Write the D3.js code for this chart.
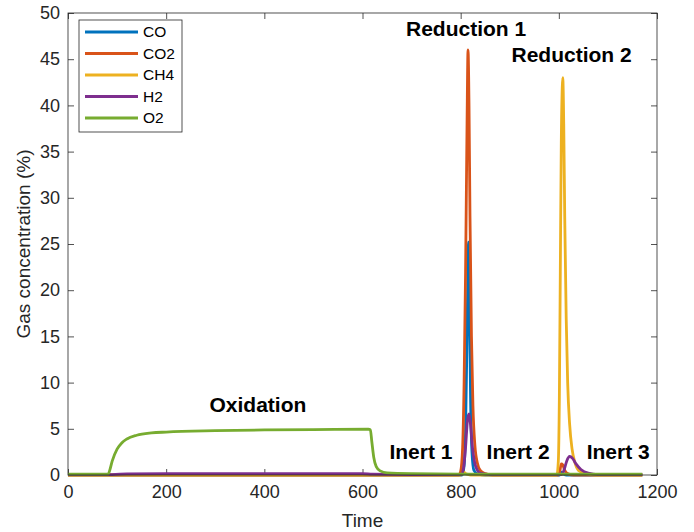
<!DOCTYPE html>
<html>
<head>
<meta charset="utf-8">
<script src="https://cdn.jsdelivr.net/npm/d3@7"></script>
<style>
  body { margin: 0; background: #fff; }
  text { font-family: "Liberation Sans", Arial, sans-serif; }
</style>
</head>
<body>
<div id="chart"></div>
<script>
// Series as [time, %] points
const coData = [[0,0],[803,0],[807,1],[810,5],[813,15],[815,23],[816,25.2],[818,19],[820,9],[823,2.5],[827,0.5],[835,0.1],[850,0],[1002,0],[1005,0.3],[1008,0.15],[1015,0],[1170,0]];
const co2Data = [[0,0],[796,0],[800,0.4],[804,3],[807,10],[810,22],[813,38],[815,46],[817,40],[819,28],[822,15],[825,7.5],[829,3.2],[834,1.3],[840,0.5],[850,0.15],[865,0],[999,0],[1002,0.4],[1005,1.2],[1008,1.1],[1012,0.5],[1020,0.1],[1030,0],[1170,0]];
const ch4Data = [[0,0],[800,0],[806,0.3],[812,0.1],[820,0],[996,0],[999,1.5],[1001,8],[1003,22],[1005,36],[1007,42],[1008,43],[1010,38],[1012,28],[1015,17],[1018,10],[1022,5.5],[1027,2.8],[1033,1.3],[1040,0.5],[1055,0.15],[1075,0],[1170,0]];
const h2Data = [[0,0.05],[90,0.05],[120,0.12],[200,0.15],[600,0.15],[620,0.1],[700,0.05],[802,0.05],[806,0.8],[810,3],[814,6],[817,6.6],[820,5.5],[824,3],[828,1.5],[833,0.6],[840,0.2],[860,0.05],[1006,0.05],[1011,0.6],[1016,1.5],[1022,2.0],[1028,1.8],[1035,1.2],[1045,0.6],[1060,0.2],[1080,0.05],[1170,0.05]];
const o2Data = [[0,0.1],[82,0.1],[85,0.5],[90,1.5],[100,2.8],[110,3.5],[120,3.9],[140,4.3],[170,4.55],[200,4.65],[300,4.8],[400,4.88],[500,4.92],[612,4.95],[616,4.9],[619,3.6],[623,1.9],[628,0.9],[636,0.45],[650,0.22],[700,0.14],[800,0.1],[1170,0.1]];

const seriesNames = ['CO', 'CO2', 'CH4', 'H2', 'O2'];
const seriesData = [coData, co2Data, ch4Data, h2Data, o2Data];
const seriesColors = ['#0072BD', '#D95319', '#EDB120', '#7E2F8E', '#77AC30'];

const xTicks = [0, 200, 400, 600, 800, 1000, 1200];
const yTicks = [0, 5, 10, 15, 20, 25, 30, 35, 40, 45, 50];

// phase annotations: [label, time, %]
const phaseLabels = [
  ['Reduction 1', 811, 47.5],
  ['Reduction 2', 1026, 44.7],
  ['Oxidation', 387, 6.8],
  ['Inert 1', 719, 1.7],
  ['Inert 2', 917, 1.7],
  ['Inert 3', 1121, 1.7]
];

const width = 694, height = 532;
const margin = {top: 13, right: 37, bottom: 57, left: 68};
const iw = width - margin.left - margin.right;
const ih = height - margin.top - margin.bottom;

const svg = d3.select('#chart').append('svg')
  .attr('width', width)
  .attr('height', height);

const g = svg.append('g')
  .attr('transform', `translate(${margin.left},${margin.top})`);

const x = d3.scaleLinear().domain([0, 1200]).range([0, iw]);
const y = d3.scaleLinear().domain([0, 50]).range([ih, 0]);

// Axes (MATLAB style: inward ticks, full box)
const axisColor = '#262626';
const styleAxis = sel => {
  sel.select('.domain').remove();
  sel.selectAll('line').attr('stroke', axisColor).attr('stroke-width', 0.8);
  sel.selectAll('text').attr('fill', axisColor).attr('font-size', '18px');
};

g.append('g')
  .attr('transform', `translate(0,${ih})`)
  .call(d3.axisBottom(x).tickValues(xTicks).tickFormat(d3.format('d'))
    .tickSizeInner(-6).tickSizeOuter(0).tickPadding(10))
  .call(styleAxis);
g.append('g')
  .call(d3.axisTop(x).tickValues(xTicks).tickSizeInner(-6).tickSizeOuter(0).tickFormat(''))
  .call(styleAxis);
g.append('g')
  .call(d3.axisLeft(y).tickValues(yTicks).tickSizeInner(-6).tickSizeOuter(0).tickPadding(8))
  .call(styleAxis);
g.append('g')
  .attr('transform', `translate(${iw},0)`)
  .call(d3.axisRight(y).tickValues(yTicks).tickSizeInner(-6).tickSizeOuter(0).tickFormat(''))
  .call(styleAxis);

// Lines
const line = d3.line()
  .x(d => x(d[0]))
  .y(d => y(d[1]))
  .curve(d3.curveMonotoneX);

const plot = g.append('g');
seriesData.forEach((data, i) => {
  plot.append('path')
    .datum(data)
    .attr('fill', 'none')
    .attr('stroke', seriesColors[i])
    .attr('stroke-width', 2.8)
    .attr('stroke-linejoin', 'round')
    .attr('d', line);
});

// Box
g.append('rect')
  .attr('width', iw)
  .attr('height', ih)
  .attr('fill', 'none')
  .attr('stroke', axisColor)
  .attr('stroke-width', 0.8);

// Phase labels
phaseLabels.forEach(([label, t, v]) => {
  g.append('text')
    .attr('x', x(t))
    .attr('y', y(v))
    .attr('text-anchor', 'middle')
    .attr('font-size', '21px')
    .attr('font-weight', 'bold')
    .attr('fill', '#000')
    .text(label);
});

// Axis titles
svg.append('text')
  .attr('x', margin.left + iw / 2)
  .attr('y', 527)
  .attr('text-anchor', 'middle')
  .attr('font-size', '19px')
  .attr('fill', axisColor)
  .text('Time');

svg.append('text')
  .attr('transform', `translate(30,${margin.top + ih / 2}) rotate(-90)`)
  .attr('text-anchor', 'middle')
  .attr('font-size', '19px')
  .attr('fill', axisColor)
  .text('Gas concentration (%)');

// Legend
const legend = g.append('g').attr('transform', 'translate(11,7)');
legend.append('rect')
  .attr('width', 103)
  .attr('height', 112)
  .attr('fill', '#fff')
  .attr('stroke', axisColor)
  .attr('stroke-width', 0.8);

seriesNames.forEach((name, i) => {
  const row = legend.append('g').attr('transform', `translate(0,${12 + i * 21.5})`);
  row.append('line')
    .attr('x1', 6).attr('x2', 59)
    .attr('stroke', seriesColors[i])
    .attr('stroke-width', 2.8);
  row.append('text')
    .attr('x', 64)
    .attr('dy', '0.35em')
    .attr('font-size', '15.5px')
    .attr('fill', '#000')
    .text(name);
});
</script>
</body>
</html>
